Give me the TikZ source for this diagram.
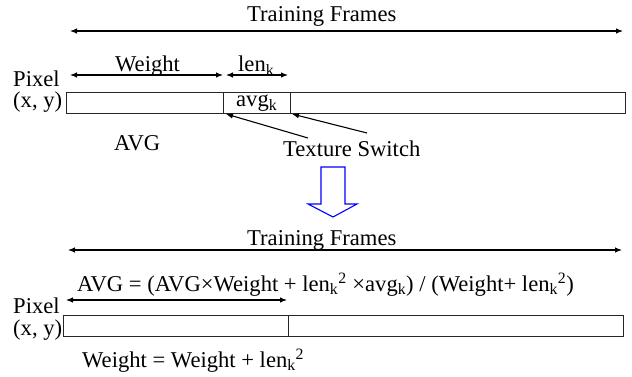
\documentclass[tikz,border=0pt]{standalone}
\usepackage{fontspec}
\setmainfont{Liberation Serif}
\usetikzlibrary{arrows.meta}
\tikzset{
  lbl/.style={anchor=base west, inner sep=0pt, font=\fontsize{22.6}{26}\selectfont},
  dimarrow/.style={line width=1.1pt, {Latex[length=7pt,width=5.5pt]}-{Latex[length=7pt,width=5.5pt]}},
  ptr/.style={line width=1.1pt, -{Latex[length=7pt,width=5.5pt]}},
  bar/.style={draw=black!85, line width=0.9pt},
  bigarrow/.style={draw=blue, line width=1.1pt, fill=white}
}
\begin{document}
\begin{tikzpicture}[x=1pt,y=-1pt]
\useasboundingbox (0,0) rectangle (632,377);
% ---------- top part ----------
\node[lbl] (tf1) at (247,22) {Training Frames};
\coordinate (tfL1) at (70,31);
\coordinate (tfR1) at (623,31);
\draw[dimarrow] (tfL1) -- (tfR1);

\node[lbl] (w1) at (115,72) {Weight};
\coordinate (wL1) at (70,75);
\coordinate (wR1) at (223,75);
\draw[dimarrow] (wL1) -- (wR1);
\node[lbl] (len1) at (238,72) {len\textsubscript{k}};
\coordinate (lL1) at (226,75);
\coordinate (lR1) at (288,75);
\draw[dimarrow] (lL1) -- (lR1);

\node[lbl] (px1) at (13,87) {Pixel};
\node[lbl] (xy1) at (13,108) {(x, y)};
\draw[bar] (66,92) rectangle (625,113);
\draw[bar] (223,92) -- (223,113);
\draw[bar] (290,92) -- (290,113);
\node[lbl] (avgk) at (236,107) {avg\textsubscript{k}};

\node[lbl] (avg) at (114,150) {AVG};
\node[lbl] (ts) at (283,157) {Texture Switch};
\coordinate (sw1) at (226,114);
\coordinate (sw2) at (292,114);
\coordinate (p1) at (308,138);
\coordinate (p2) at (367,133);
\draw[ptr] (p1) -- (sw1);
\draw[ptr] (p2) -- (sw2);

% ---------- hollow blue arrow ----------
\draw[bigarrow] (321,167) -- (345,167) -- (345,204) -- (357,204) -- (333,217)
  -- (308,204) -- (321,204) -- cycle;

% ---------- bottom part ----------
\node[lbl] (tf2) at (247,245) {Training Frames};
\coordinate (tfL2) at (68,250);
\coordinate (tfR2) at (622,250);
\draw[dimarrow] (tfL2) -- (tfR2);

\node[lbl] (formula) at (77,291) {AVG = (AVG×Weight + len\textsubscript{k}\textsuperscript{2} ×avg\textsubscript{k}) / (Weight+ len\textsubscript{k}\textsuperscript{2})};
\coordinate (wL2) at (66,300);
\coordinate (wR2) at (287,300);
\draw[dimarrow] (wL2) -- (wR2);

\node[lbl] (px2) at (13,313) {Pixel};
\node[lbl] (xy2) at (13,335) {(x, y)};
\draw[bar] (63,315) rectangle (623,336);
\draw[bar] (288,315) -- (288,336);

\node[lbl] (wupd) at (82,367) {Weight = Weight + len\textsubscript{k}\textsuperscript{2}};
\end{tikzpicture}
\end{document}
